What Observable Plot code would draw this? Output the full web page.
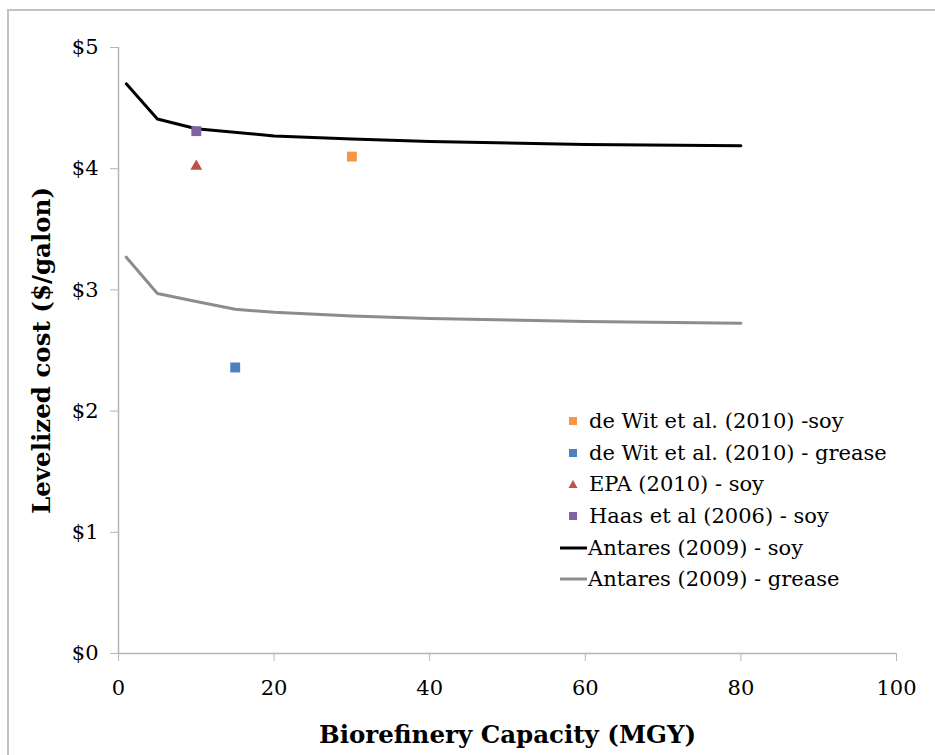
<!DOCTYPE html>
<html>
<head>
<meta charset="utf-8">
<script src="https://cdn.jsdelivr.net/npm/d3@7"></script>
<script src="https://cdn.jsdelivr.net/npm/@observablehq/plot@0.6"></script>
<style>
  html, body { margin: 0; padding: 0; background: #fff; overflow: hidden; }
  #wrap { position: relative; width: 935px; height: 755px; overflow: hidden; }
  #frame { position: absolute; left: 7px; top: 9px; width: 2000px; height: 2000px;
           border-left: 2px solid #c2c2c2; border-top: 2px solid #c2c2c2; }
  #chart { position: absolute; left: 0; top: 0; }
  #legend { position: absolute; left: 559px; top: 405px; font-family: "DejaVu Serif", serif;
            font-size: 21px; color: #000; }
  .row { height: 31.7px; display: flex; align-items: center; white-space: nowrap; }
  .row svg { flex: none; }
</style>
</head>
<body>
<div id="wrap">
  <div id="frame"></div>
  <div id="chart"></div>
  <div id="legend"></div>
</div>
<script>
// Antares (2009) cost curves, levelized cost ($/gallon) vs. plant capacity (MGY)
const soyCapacity = [1, 5, 10, 20, 30, 40, 60, 80];
const soyCost = [4.70, 4.41, 4.33, 4.27, 4.245, 4.225, 4.20, 4.19];
const greaseCapacity = [1, 5, 10, 15, 20, 30, 40, 60, 80];
const greaseCost = [3.27, 2.97, 2.905, 2.84, 2.815, 2.785, 2.765, 2.74, 2.725];

// Point estimates from individual studies
const studyNames = ["de Wit et al. (2010) -soy", "de Wit et al. (2010) - grease", "EPA (2010) - soy", "Haas et al (2006) - soy"];
const studyCapacity = [30, 15, 10, 10];
const studyCost = [4.10, 2.36, 4.02, 4.31];
const studySymbols = ["square", "square", "triangle", "square"];
const studyColors = ["#F79646", "#4F81BD", "#C0504D", "#8064A2"];

const lineNames = ["Antares (2009) - soy", "Antares (2009) - grease"];
const lineColors = ["#000000", "#8C8C8C"];

const xTicks = [0, 20, 40, 60, 80, 100];
const yTicks = [0, 1, 2, 3, 4, 5];
const xTitle = "Biorefinery Capacity (MGY)";
const yTitle = "Levelized cost ($/galon)";

const soy = soyCapacity.map((c, i) => ({capacity: c, cost: soyCost[i]}));
const grease = greaseCapacity.map((c, i) => ({capacity: c, cost: greaseCost[i]}));
const studies = studyNames.map((n, i) => ({name: n, capacity: studyCapacity[i], cost: studyCost[i],
  symbol: studySymbols[i], color: studyColors[i]}));

const serif = "'DejaVu Serif', serif";
const axisGray = "#b5b5b5";

const chart = Plot.plot({
  width: 935,
  height: 755,
  marginLeft: 118,
  marginRight: 39,
  marginTop: 47,
  marginBottom: 102,
  style: {fontFamily: serif, fontSize: "21px", background: "transparent", color: "#000"},
  x: {domain: [0, 100]},
  y: {domain: [0, 5]},
  color: {type: "identity"},
  marks: [
    Plot.ruleY([0], {stroke: axisGray, strokeWidth: 1.5}),
    Plot.ruleX([0], {stroke: axisGray, strokeWidth: 1.5}),
    Plot.axisX({ticks: xTicks, tickSize: 8, tickPadding: 19, stroke: axisGray, fill: "#000",
      fontSize: 21, label: null}),
    Plot.axisY({ticks: yTicks, tickSize: 8, tickPadding: 12, stroke: axisGray, fill: "#000",
      fontSize: 21, tickFormat: d => "$" + d, label: null}),
    Plot.line(grease, {x: "capacity", y: "cost", stroke: lineColors[1], strokeWidth: 3}),
    Plot.line(soy, {x: "capacity", y: "cost", stroke: lineColors[0], strokeWidth: 3}),
    Plot.dot(studies.filter(d => d.symbol === "square"),
      {x: "capacity", y: "cost", symbol: "square", fill: "color", stroke: "none", r: 5.6}),
    Plot.dot(studies.filter(d => d.symbol === "triangle"),
      {x: "capacity", y: "cost", symbol: "triangle", fill: "color", stroke: "none", r: 4.4}),
    Plot.text([xTitle], {frameAnchor: "bottom", dy: 82, lineAnchor: "middle", textAnchor: "middle",
      fontWeight: "bold", fontSize: 24.5, fill: "#000"}),
    Plot.text([yTitle], {frameAnchor: "left", dx: -76, rotate: -90, textAnchor: "middle", lineAnchor: "middle",
      fontWeight: "bold", fontSize: 24.5, fill: "#000"})
  ]
});
document.getElementById("chart").appendChild(chart);

// Legend: study markers, then the two cost curves
const legend = d3.select("#legend");
studies.forEach(s => {
  const row = legend.append("div").attr("class", "row");
  const svg = row.append("svg").attr("width", 30).attr("height", 20);
  if (s.symbol === "triangle") {
    svg.append("path").attr("d", "M14,6 L18.5,14 L9.5,14 Z").attr("fill", s.color);
  } else {
    svg.append("rect").attr("x", 10).attr("y", 6).attr("width", 8).attr("height", 8).attr("fill", s.color);
  }
  row.append("span").text(s.name);
});
lineNames.forEach((n, i) => {
  const row = legend.append("div").attr("class", "row");
  const svg = row.append("svg").attr("width", 29).attr("height", 20);
  svg.append("line").attr("x1", 1).attr("x2", 28).attr("y1", 10).attr("y2", 10)
    .attr("stroke", lineColors[i]).attr("stroke-width", 3);
  row.append("span").text(n);
});
</script>
</body>
</html>
